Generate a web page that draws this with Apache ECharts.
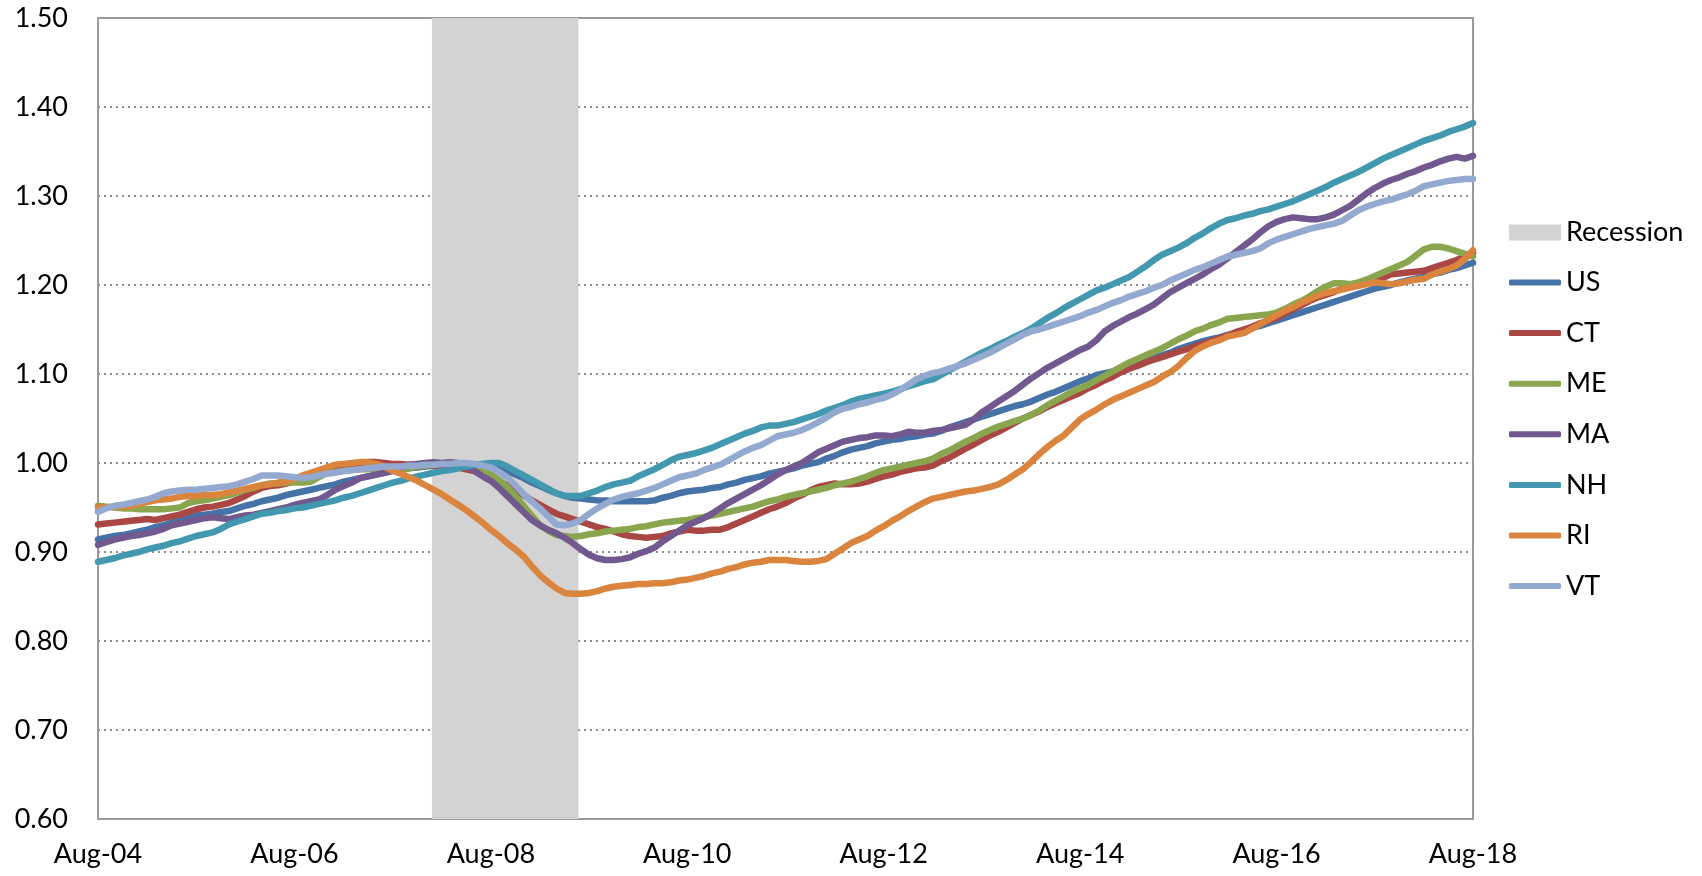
<!DOCTYPE html>
<html>
<head>
<meta charset="utf-8">
<title>New England vs US index</title>
<script src="https://cdn.jsdelivr.net/npm/echarts@6/dist/echarts.min.js"></script>
<style>
  html, body { margin: 0; padding: 0; background: #fff; }
  #chart { width: 1702px; height: 876px; }
</style>
</head>
<body>
<div id="chart"></div>
<script>
// monthly categories, Aug-04 .. Aug-18
const monthNames = ['Jan', 'Feb', 'Mar', 'Apr', 'May', 'Jun', 'Jul', 'Aug', 'Sep', 'Oct', 'Nov', 'Dec']
const categories = []
for (let k = 0; k <= 168; k++) {
  const m = (7 + k) % 12
  const y = 4 + Math.floor((7 + k) / 12)
  categories.push(monthNames[m] + '-' + String(y).padStart(2, '0'))
}
const tickLabels = ['Aug-04', 'Aug-06', 'Aug-08', 'Aug-10', 'Aug-12', 'Aug-14', 'Aug-16', 'Aug-18']
// recession shading, in months since Aug-04 (Dec-07 .. Jun-09)
const recession = [40.8, 58.7]

const US = [
  0.914, 0.916, 0.918, 0.919, 0.921, 0.923, 0.925, 0.928, 0.930, 0.933, 0.936, 0.938,
  0.941, 0.942, 0.943, 0.945, 0.946, 0.949, 0.952, 0.954, 0.957, 0.959, 0.961, 0.964,
  0.966, 0.968, 0.970, 0.972, 0.974, 0.976, 0.979, 0.981, 0.983, 0.985, 0.987, 0.989,
  0.991, 0.992, 0.994, 0.995, 0.996, 0.997, 0.997, 0.998, 0.998, 0.998, 0.998, 0.997,
  0.996, 0.994, 0.991, 0.987, 0.983, 0.978, 0.974, 0.970, 0.966, 0.963, 0.961, 0.960,
  0.959, 0.958, 0.958, 0.957, 0.957, 0.957, 0.957, 0.957, 0.958, 0.961, 0.963, 0.966,
  0.968, 0.969, 0.970, 0.972, 0.973, 0.976, 0.978, 0.981, 0.983, 0.985, 0.988, 0.990,
  0.992, 0.994, 0.997, 0.999, 1.001, 1.005, 1.008, 1.012, 1.015, 1.017, 1.019, 1.022,
  1.024, 1.026, 1.027, 1.029, 1.030, 1.032, 1.033, 1.036, 1.040, 1.043, 1.046, 1.049,
  1.052, 1.055, 1.058, 1.061, 1.064, 1.066, 1.069, 1.073, 1.077, 1.080, 1.084, 1.088,
  1.092, 1.095, 1.099, 1.101, 1.103, 1.106, 1.108, 1.111, 1.115, 1.118, 1.121, 1.124,
  1.128, 1.131, 1.134, 1.137, 1.139, 1.141, 1.144, 1.146, 1.149, 1.152, 1.154, 1.157,
  1.160, 1.163, 1.166, 1.169, 1.172, 1.175, 1.178, 1.181, 1.184, 1.187, 1.190, 1.193,
  1.196, 1.198, 1.200, 1.203, 1.205, 1.207, 1.209, 1.212, 1.214, 1.217, 1.219, 1.222, 1.225
]
const CT = [
  0.931, 0.932, 0.933, 0.934, 0.935, 0.936, 0.937, 0.936, 0.938, 0.940, 0.942, 0.945,
  0.948, 0.950, 0.951, 0.953, 0.955, 0.959, 0.963, 0.968, 0.972, 0.974, 0.975, 0.977,
  0.979, 0.982, 0.985, 0.988, 0.991, 0.993, 0.996, 0.998, 1.000, 1.001, 1.001, 1.000,
  0.999, 0.999, 0.998, 0.998, 0.998, 0.997, 0.997, 0.996, 0.995, 0.993, 0.991, 0.987,
  0.983, 0.979, 0.975, 0.970, 0.964, 0.958, 0.953, 0.948, 0.943, 0.940, 0.937, 0.934,
  0.931, 0.928, 0.926, 0.923, 0.920, 0.918, 0.917, 0.916, 0.917, 0.918, 0.921, 0.923,
  0.925, 0.924, 0.924, 0.925, 0.925, 0.928, 0.932, 0.936, 0.940, 0.944, 0.948, 0.951,
  0.955, 0.960, 0.964, 0.969, 0.973, 0.975, 0.977, 0.976, 0.976, 0.977, 0.979, 0.982,
  0.985, 0.987, 0.990, 0.992, 0.994, 0.995, 0.997, 1.002, 1.006, 1.011, 1.016, 1.021,
  1.026, 1.031, 1.035, 1.040, 1.045, 1.050, 1.054, 1.058, 1.063, 1.067, 1.071, 1.075,
  1.079, 1.084, 1.088, 1.093, 1.097, 1.102, 1.106, 1.109, 1.113, 1.116, 1.119, 1.122,
  1.125, 1.128, 1.131, 1.134, 1.137, 1.140, 1.143, 1.147, 1.150, 1.153, 1.157, 1.160,
  1.163, 1.168, 1.173, 1.177, 1.182, 1.186, 1.189, 1.192, 1.196, 1.198, 1.200, 1.202,
  1.204, 1.208, 1.212, 1.213, 1.214, 1.215, 1.216, 1.219, 1.222, 1.225, 1.228, 1.232, 1.236
]
const ME = [
  0.952, 0.951, 0.950, 0.949, 0.949, 0.948, 0.948, 0.948, 0.948, 0.949, 0.950, 0.955,
  0.957, 0.958, 0.960, 0.962, 0.964, 0.967, 0.970, 0.972, 0.975, 0.977, 0.977, 0.978,
  0.978, 0.978, 0.979, 0.984, 0.989, 0.990, 0.991, 0.992, 0.993, 0.993, 0.993, 0.992,
  0.992, 0.993, 0.994, 0.996, 0.997, 0.998, 0.999, 1.000, 0.999, 0.998, 0.995, 0.991,
  0.987, 0.981, 0.973, 0.963, 0.952, 0.941, 0.930, 0.924, 0.919, 0.918, 0.917, 0.918,
  0.920, 0.921, 0.923, 0.924, 0.925, 0.926, 0.928, 0.929, 0.931, 0.933, 0.934, 0.935,
  0.936, 0.938, 0.939, 0.941, 0.943, 0.945, 0.947, 0.949, 0.951, 0.954, 0.957, 0.959,
  0.962, 0.964, 0.966, 0.968, 0.970, 0.972, 0.975, 0.977, 0.979, 0.982, 0.985, 0.989,
  0.992, 0.994, 0.996, 0.998, 1.000, 1.002, 1.005, 1.010, 1.014, 1.019, 1.024, 1.028,
  1.033, 1.037, 1.041, 1.044, 1.047, 1.050, 1.054, 1.059, 1.065, 1.070, 1.075, 1.080,
  1.084, 1.088, 1.093, 1.098, 1.103, 1.108, 1.113, 1.117, 1.121, 1.125, 1.129, 1.134,
  1.139, 1.143, 1.148, 1.151, 1.155, 1.158, 1.162, 1.163, 1.164, 1.165, 1.166, 1.167,
  1.169, 1.173, 1.178, 1.182, 1.187, 1.193, 1.198, 1.202, 1.202, 1.201, 1.203, 1.206,
  1.210, 1.214, 1.218, 1.222, 1.226, 1.233, 1.240, 1.243, 1.243, 1.241, 1.238, 1.235, 1.232
]
const MA = [
  0.908, 0.911, 0.914, 0.916, 0.918, 0.919, 0.921, 0.923, 0.926, 0.930, 0.932, 0.934,
  0.936, 0.938, 0.939, 0.938, 0.937, 0.939, 0.941, 0.942, 0.944, 0.946, 0.948, 0.950,
  0.953, 0.955, 0.957, 0.959, 0.964, 0.970, 0.974, 0.978, 0.983, 0.985, 0.987, 0.989,
  0.992, 0.995, 0.998, 0.999, 1.000, 1.001, 1.000, 1.001, 1.000, 0.997, 0.991, 0.985,
  0.980, 0.972, 0.963, 0.954, 0.945, 0.936, 0.930, 0.925, 0.921, 0.916, 0.910, 0.903,
  0.897, 0.893, 0.891, 0.891, 0.892, 0.894, 0.898, 0.901, 0.905, 0.912, 0.918, 0.924,
  0.930, 0.934, 0.938, 0.943, 0.949, 0.955, 0.960, 0.965, 0.970, 0.975, 0.981, 0.987,
  0.992, 0.996, 1.000, 1.006, 1.012, 1.016, 1.020, 1.024, 1.026, 1.028, 1.029, 1.031,
  1.031, 1.030, 1.032, 1.035, 1.034, 1.034, 1.036, 1.037, 1.039, 1.041, 1.043, 1.049,
  1.057, 1.063, 1.069, 1.075, 1.081, 1.088, 1.095, 1.101, 1.107, 1.112, 1.117, 1.122,
  1.127, 1.131, 1.138, 1.148, 1.154, 1.159, 1.164, 1.168, 1.173, 1.178, 1.185, 1.192,
  1.197, 1.202, 1.207, 1.212, 1.218, 1.223, 1.230, 1.237, 1.244, 1.251, 1.259, 1.266,
  1.271, 1.274, 1.276, 1.275, 1.274, 1.274, 1.276, 1.279, 1.284, 1.289, 1.296, 1.303,
  1.309, 1.314, 1.318, 1.321, 1.325, 1.328, 1.332, 1.335, 1.339, 1.342, 1.344, 1.342, 1.345
]
const NH = [
  0.889, 0.891, 0.893, 0.896, 0.898, 0.900, 0.903, 0.905, 0.907, 0.910, 0.912, 0.915,
  0.918, 0.920, 0.922, 0.926, 0.931, 0.934, 0.937, 0.940, 0.943, 0.944, 0.946, 0.947,
  0.949, 0.950, 0.952, 0.954, 0.956, 0.958, 0.961, 0.963, 0.966, 0.969, 0.972, 0.975,
  0.978, 0.980, 0.983, 0.985, 0.987, 0.989, 0.991, 0.992, 0.994, 0.996, 0.998, 0.999,
  1.000, 1.000, 0.996, 0.991, 0.986, 0.981, 0.976, 0.971, 0.966, 0.963, 0.963, 0.963,
  0.966, 0.969, 0.973, 0.976, 0.978, 0.980, 0.985, 0.989, 0.993, 0.998, 1.003, 1.007,
  1.009, 1.011, 1.014, 1.017, 1.021, 1.025, 1.029, 1.033, 1.036, 1.040, 1.042, 1.042,
  1.044, 1.046, 1.049, 1.052, 1.055, 1.059, 1.062, 1.065, 1.069, 1.072, 1.074, 1.076,
  1.078, 1.080, 1.083, 1.086, 1.089, 1.092, 1.094, 1.099, 1.104, 1.109, 1.114, 1.119,
  1.124, 1.128, 1.133, 1.137, 1.142, 1.146, 1.151, 1.157, 1.163, 1.168, 1.174, 1.179,
  1.184, 1.189, 1.194, 1.197, 1.201, 1.205, 1.209, 1.215, 1.221, 1.228, 1.234, 1.238,
  1.242, 1.247, 1.253, 1.258, 1.264, 1.269, 1.273, 1.275, 1.278, 1.280, 1.283, 1.285,
  1.288, 1.291, 1.294, 1.298, 1.302, 1.306, 1.310, 1.315, 1.319, 1.323, 1.327, 1.332,
  1.337, 1.342, 1.346, 1.350, 1.354, 1.358, 1.362, 1.365, 1.368, 1.372, 1.375, 1.378, 1.382
]
const RI = [
  0.950, 0.950, 0.951, 0.951, 0.952, 0.954, 0.956, 0.958, 0.959, 0.960, 0.962, 0.963,
  0.963, 0.964, 0.964, 0.965, 0.967, 0.969, 0.971, 0.973, 0.975, 0.976, 0.978, 0.979,
  0.982, 0.986, 0.989, 0.992, 0.995, 0.998, 0.999, 1.000, 1.001, 1.001, 0.999, 0.996,
  0.991, 0.988, 0.984, 0.980, 0.975, 0.970, 0.965, 0.959, 0.953, 0.947, 0.940, 0.933,
  0.925, 0.918, 0.910, 0.903, 0.895, 0.884, 0.874, 0.866, 0.859, 0.854, 0.853, 0.853,
  0.854, 0.856, 0.859, 0.861, 0.862, 0.863, 0.864, 0.864, 0.865, 0.865, 0.866, 0.868,
  0.869, 0.871, 0.873, 0.876, 0.878, 0.881, 0.883, 0.886, 0.888, 0.889, 0.891, 0.891,
  0.891, 0.890, 0.889, 0.889, 0.890, 0.892, 0.898, 0.904, 0.910, 0.914, 0.918, 0.924,
  0.929, 0.935, 0.940, 0.946, 0.951, 0.956, 0.960, 0.962, 0.964, 0.966, 0.968, 0.969,
  0.971, 0.973, 0.976, 0.981, 0.987, 0.993, 1.001, 1.010, 1.018, 1.025, 1.031, 1.040,
  1.049, 1.055, 1.060, 1.066, 1.071, 1.075, 1.079, 1.083, 1.087, 1.091, 1.097, 1.102,
  1.109, 1.118, 1.126, 1.131, 1.135, 1.138, 1.142, 1.144, 1.146, 1.151, 1.156, 1.161,
  1.166, 1.171, 1.175, 1.180, 1.184, 1.188, 1.191, 1.193, 1.195, 1.197, 1.199, 1.201,
  1.203, 1.202, 1.201, 1.202, 1.204, 1.206, 1.207, 1.212, 1.215, 1.218, 1.222, 1.229, 1.239
]
const VT = [
  0.945, 0.949, 0.952, 0.953, 0.955, 0.957, 0.959, 0.962, 0.966, 0.968, 0.969, 0.970,
  0.970, 0.971, 0.972, 0.973, 0.974, 0.976, 0.979, 0.982, 0.986, 0.986, 0.986, 0.985,
  0.984, 0.983, 0.984, 0.986, 0.988, 0.989, 0.991, 0.992, 0.993, 0.994, 0.995, 0.996,
  0.996, 0.996, 0.997, 0.997, 0.998, 0.998, 0.999, 0.999, 1.000, 1.000, 0.999, 0.997,
  0.995, 0.990, 0.984, 0.975, 0.965, 0.957, 0.949, 0.940, 0.931, 0.930, 0.932, 0.936,
  0.943, 0.949, 0.954, 0.959, 0.962, 0.964, 0.966, 0.969, 0.972, 0.976, 0.980, 0.984,
  0.986, 0.988, 0.992, 0.995, 0.998, 1.003, 1.008, 1.013, 1.017, 1.020, 1.025, 1.030,
  1.032, 1.034, 1.037, 1.041, 1.046, 1.051, 1.057, 1.061, 1.063, 1.066, 1.068, 1.071,
  1.073, 1.077, 1.082, 1.088, 1.094, 1.098, 1.101, 1.103, 1.106, 1.109, 1.112, 1.116,
  1.120, 1.124, 1.129, 1.134, 1.139, 1.144, 1.148, 1.150, 1.153, 1.156, 1.159, 1.162,
  1.165, 1.169, 1.172, 1.176, 1.180, 1.183, 1.187, 1.190, 1.193, 1.197, 1.200, 1.205,
  1.209, 1.213, 1.217, 1.220, 1.224, 1.228, 1.232, 1.234, 1.236, 1.238, 1.241, 1.247,
  1.251, 1.254, 1.257, 1.260, 1.263, 1.265, 1.267, 1.269, 1.272, 1.278, 1.284, 1.288,
  1.291, 1.294, 1.296, 1.299, 1.302, 1.306, 1.311, 1.313, 1.315, 1.317, 1.318, 1.319, 1.319
]

const seriesNames = ['US', 'CT', 'ME', 'MA', 'NH', 'RI', 'VT']
const seriesData = [US, CT, ME, MA, NH, RI, VT]
const colorMap = {
  US: '#4572a7',
  CT: '#aa4643',
  ME: '#89a54e',
  MA: '#71588f',
  NH: '#4198af',
  RI: '#db843d',
  VT: '#93a9cf',
  Recession: '#d3d3d3'
}

const fontFamily = 'Lato, "Open Sans", sans-serif'
const fontSize = 27

const chartDom = document.getElementById('chart')
const myChart = echarts.init(chartDom)

const option = {
  animation: false,
  backgroundColor: '#fff',
  grid: {
    left: 98,
    right: 229,
    top: 18,
    bottom: 57,
    show: true,
    borderColor: '#9a9a9a',
    borderWidth: 2
  },
  legend: [
    {
      data: [{ name: 'Recession', icon: 'rect' }],
      orient: 'vertical',
      left: 1504,
      top: 214,
      itemWidth: 52,
      itemHeight: 16,
      itemGap: 0,
      selectedMode: false,
      textStyle: { fontFamily, fontSize, color: '#000', lineHeight: 24 }
    },
    {
      data: seriesNames.map(n => ({ name: n, icon: 'roundRect' })),
      orient: 'vertical',
      left: 1504,
      top: 264,
      itemWidth: 52,
      itemHeight: 6,
      itemGap: 23.6,
      selectedMode: false,
      textStyle: { fontFamily, fontSize, color: '#000', lineHeight: 24 }
    }
  ],
  xAxis: [
    {
      type: 'category',
      data: categories,
      boundaryGap: false,
      axisLine: { lineStyle: { color: '#9a9a9a', width: 2 } },
      axisTick: { show: false },
      axisLabel: {
        interval: 23,
        margin: 22,
        color: '#000',
        fontFamily,
        fontSize,
        formatter: v => (tickLabels.includes(v) ? v : '')
      },
      splitLine: { show: false }
    },
    {
      // hidden month-index axis used only to place the recession band
      type: 'value',
      min: 0,
      max: categories.length - 1,
      show: false
    }
  ],
  yAxis: {
    type: 'value',
    min: 0.6,
    max: 1.5,
    interval: 0.1,
    axisLine: { show: true, lineStyle: { color: '#9a9a9a', width: 2 } },
    axisTick: { show: false },
    axisLabel: {
      margin: 30,
      color: '#000',
      fontFamily,
      fontSize,
      formatter: v => v.toFixed(2)
    },
    splitLine: {
      showMaxLine: false,
      lineStyle: { color: '#8c8c8c', width: 2, type: [2, 4] }
    }
  },
  series: [
    {
      name: 'Recession',
      type: 'line',
      xAxisIndex: 1,
      z: 1,
      data: [],
      color: colorMap.Recession,
      markArea: {
        silent: true,
        itemStyle: { color: colorMap.Recession, opacity: 1 },
        data: [[{ xAxis: recession[0] }, { xAxis: recession[1] }]]
      }
    },
    ...seriesNames.map((name, idx) => ({
      name,
      type: 'line',
      z: 3,
      data: seriesData[idx],
      color: colorMap[name],
      showSymbol: false,
      symbol: 'none',
      lineStyle: { width: 6.5, color: colorMap[name], cap: 'round', join: 'round' },
      emphasis: { disabled: true }
    }))
  ]
}

option && myChart.setOption(option)

window.addEventListener('resize', () => {
  myChart.resize()
})
</script>
</body>
</html>
